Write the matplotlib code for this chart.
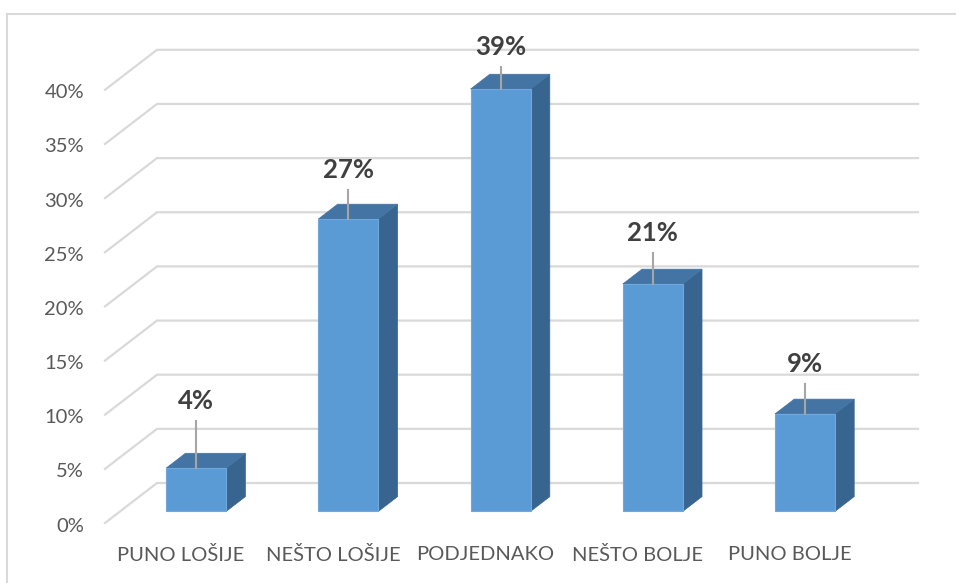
import matplotlib
matplotlib.use("Agg")
import matplotlib.pyplot as plt
from matplotlib.patches import Polygon
from matplotlib.lines import Line2D

categories = ["PUNO LOŠIJE", "NEŠTO LOŠIJE", "PODJEDNAKO", "NEŠTO BOLJE", "PUNO BOLJE"]
values = [4, 27, 39, 21, 9]
value_labels = ["4%", "27%", "39%", "21%", "9%"]
y_ticks = [0, 5, 10, 15, 20, 25, 30, 35, 40]
y_tick_labels = ["0%", "5%", "10%", "15%", "20%", "25%", "30%", "35%", "40%"]

# label placement (pixels above bar front top)
label_offsets_px = [67, 49, 42, 51, 50]

W, H = 956, 583
fig = plt.figure(figsize=(W / 100, H / 100), dpi=100)
ax = fig.add_axes([0, 0, 1, 1])

PX_CAT = 152.2   # pixels per category on the front plane
PX_PCT = 10.83   # pixels per percent
X0_PX = 105      # left edge of front plane
Y0_PX = 523      # 0% on front plane (from top)
ax.set_xlim(-0.5 - X0_PX / PX_CAT, -0.5 + (W - X0_PX) / PX_CAT)
ax.set_ylim(-(H - Y0_PX) / PX_PCT, Y0_PX / PX_PCT)
ax.axis("off")

DX = 52 / PX_CAT
DY = 40 / PX_PCT
n = len(categories)


def proj(x, y, d):
    return (x + d * DX, y + d * DY)


FONT = "Lato"
grid_c = "#d9d9d9"
for L in y_ticks:
    pts = [proj(-0.5, L, 0), proj(-0.5, L, 1), proj(n - 0.5, L, 1)]
    ax.plot([p[0] for p in pts], [p[1] for p in pts], color=grid_c, lw=1.6,
            zorder=1, solid_joinstyle="miter")

for L, lab in zip(y_ticks, y_tick_labels):
    ax.text(-0.5 + (84 - X0_PX) / PX_CAT, L - 3 / PX_PCT, lab, ha="right", va="center",
            fontsize=14.5, color="#595959", family=FONT)

for i, c in enumerate(categories):
    ax.text(i, -32 / PX_PCT, c, ha="center", va="center", fontsize=14.5,
            color="#595959", family=FONT)

hw = 0.197
d0, d1 = 0.29, 0.66
front_c = "#5B9BD5"
top_c = "#4374A3"
side_c = "#386490"
for i, v in enumerate(values):
    side = [proj(i + hw, 0, d0), proj(i + hw, v, d0), proj(i + hw, v, d1), proj(i + hw, 0, d1)]
    top = [proj(i - hw, v, d0), proj(i + hw, v, d0), proj(i + hw, v, d1), proj(i - hw, v, d1)]
    front = [proj(i - hw, 0, d0), proj(i + hw, 0, d0), proj(i + hw, v, d0), proj(i - hw, v, d0)]
    ax.add_patch(Polygon(side, closed=True, facecolor=side_c, edgecolor=side_c, lw=0.5, zorder=2))
    ax.add_patch(Polygon(top, closed=True, facecolor=top_c, edgecolor=top_c, lw=0.5, zorder=2))
    ax.add_patch(Polygon(front, closed=True, facecolor=front_c, edgecolor="#6fa8dc", lw=0.8, zorder=3))
    cx, ty = proj(i, v, d0)
    label_y = ty + label_offsets_px[i] / PX_PCT
    ax.plot([cx, cx], [ty, label_y - 20 / PX_PCT], color="#a6a6a6", lw=1.5, zorder=4)
    ax.text(cx, label_y, value_labels[i], ha="center", va="center", fontsize=18.5,
            fontweight="bold", color="#404040", family=FONT, zorder=5)

# outer chart frame (cropped on the right and bottom)
fig.add_artist(Line2D([7 / W, 7 / W], [0, 1 - 14 / H], transform=fig.transFigure,
                      color="#d9d9d9", lw=1.5))
fig.add_artist(Line2D([7 / W, 1], [1 - 14 / H, 1 - 14 / H], transform=fig.transFigure,
                      color="#d9d9d9", lw=1.5))

fig.savefig("out.png", dpi=100)
